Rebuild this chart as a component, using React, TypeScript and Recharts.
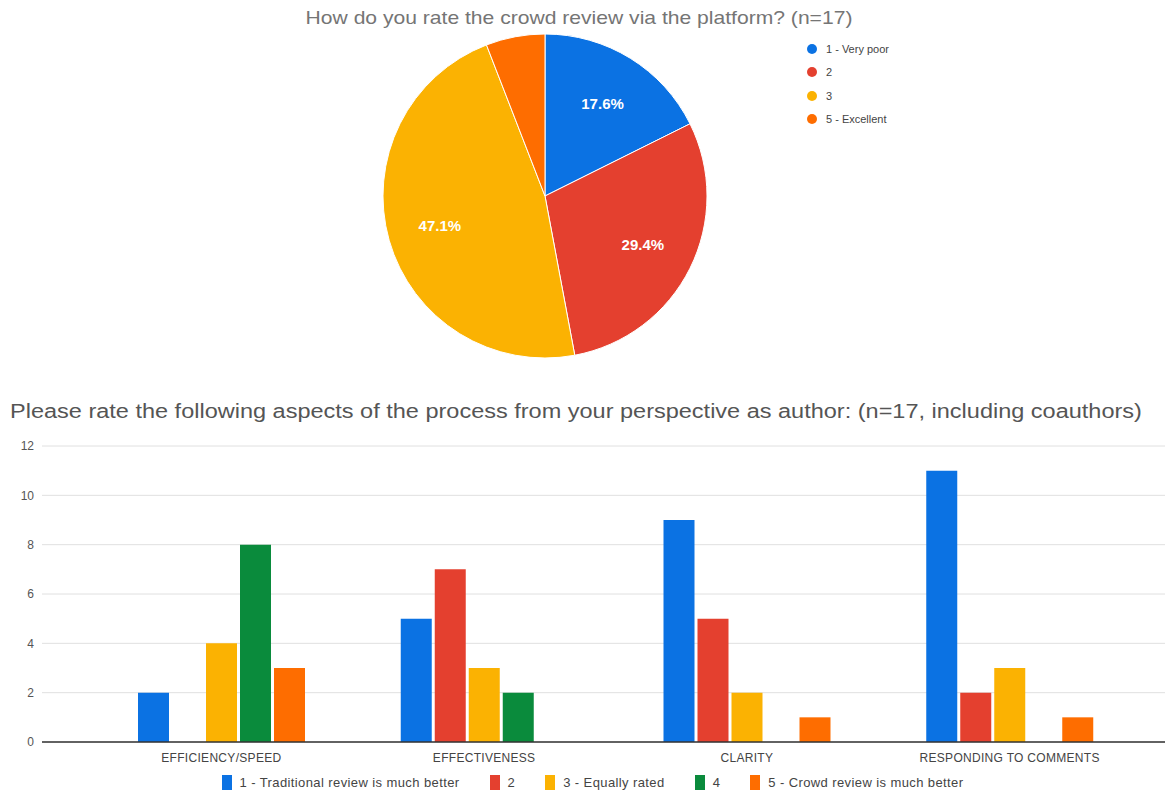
import {
  PieChart,
  Pie,
  Cell,
  BarChart,
  Bar,
  XAxis,
  YAxis,
  CartesianGrid,
  Legend,
} from "recharts";

const pieLabels = ["1 - Very poor", "2", "3", "5 - Excellent"];
const pieCounts = [3, 5, 8, 1];
const pieColors = ["#0b72e3", "#e4402f", "#fbb202", "#fe6d00"];

const aspects = ["EFFICIENCY/SPEED", "EFFECTIVENESS", "CLARITY", "RESPONDING TO COMMENTS"];
const rating1 = [2, 5, 9, 11];
const rating2 = [0, 7, 5, 2];
const rating3 = [4, 3, 2, 3];
const rating4 = [8, 2, 0, 0];
const rating5 = [3, 0, 1, 1];
const barSeries = ["1 - Traditional review is much better", "2", "3 - Equally rated", "4", "5 - Crowd review is much better"];
const barColors = ["#0b72e3", "#e4402f", "#fbb202", "#0a8b3c", "#fe6d00"];
const yTicks = [0, 2, 4, 6, 8, 10, 12];

const FONT = "'Liberation Sans', Arial, sans-serif";

const pieData = pieLabels.map((name, i) => ({ name, value: pieCounts[i] }));
const total = pieCounts.reduce((a, b) => a + b, 0);

const barData = aspects.map((a, i) => ({
  aspect: a,
  r1: rating1[i],
  r2: rating2[i],
  r3: rating3[i],
  r4: rating4[i],
  r5: rating5[i],
}));
const barKeys = ["r1", "r2", "r3", "r4", "r5"];

const RAD = Math.PI / 180;

function pieLabel(props: any) {
  const { cx, cy, midAngle, outerRadius, value } = props;
  const pct = (value / total) * 100;
  if (pct < 10) return null;
  const r = outerRadius * 0.675;
  const x = cx + r * Math.cos(-midAngle * RAD);
  const y = cy + r * Math.sin(-midAngle * RAD);
  return (
    <text
      x={x}
      y={y}
      fill="#fff"
      textAnchor="middle"
      dominantBaseline="central"
      fontSize={15}
      fontWeight="bold"
      fontFamily={FONT}
    >
      {pct.toFixed(1)}%
    </text>
  );
}

function PieLegend() {
  return (
    <div style={{ fontFamily: FONT, fontSize: 11, color: "#444" }}>
      {pieData.map((d, i) => (
        <div key={d.name} style={{ display: "flex", alignItems: "center", height: 23.5 }}>
          <span
            style={{
              width: 10,
              height: 10,
              borderRadius: 5,
              background: pieColors[i],
              marginRight: 9,
              display: "inline-block",
            }}
          />
          {d.name}
        </div>
      ))}
    </div>
  );
}

function XTick(props: any) {
  const { x, y, payload } = props;
  return (
    <text
      x={x}
      y={y + 12}
      textAnchor="middle"
      fontSize={12}
      fill="#444"
      fontFamily={FONT}
      letterSpacing={0.3}
    >
      {payload.value}
    </text>
  );
}

function BarLegend() {
  return (
    <div
      style={{
        display: "flex",
        justifyContent: "center",
        alignItems: "center",
        fontFamily: FONT,
        fontSize: 13,
        letterSpacing: 0.4,
        color: "#444",
        paddingTop: 13,
        paddingLeft: 20,
      }}
    >
      {barSeries.map((s, i) => (
        <div key={i} style={{ display: "flex", alignItems: "center", marginRight: i < 4 ? 30 : 0 }}>
          <span
            style={{
              width: 10,
              height: 15,
              background: barColors[i],
              marginRight: 8,
              display: "inline-block",
            }}
          />
          {s}
        </div>
      ))}
    </div>
  );
}

export default function App() {
  return (
    <div
      style={{
        position: "absolute",
        left: 0,
        top: 0,
        width: 1176,
        height: 795,
        background: "#fff",
        fontFamily: FONT,
        overflow: "hidden",
      }}
    >
      <div
        style={{
          position: "absolute",
          top: 7,
          left: 579,
          fontSize: 19,
          color: "#757575",
          whiteSpace: "nowrap",
          transform: "translateX(-50%) scaleX(1.11)",
        }}
      >
        How do you rate the crowd review via the platform? (n=17)
      </div>
      <div style={{ position: "absolute", top: 0, left: 0 }}>
        <PieChart width={1176} height={380}>
          <Pie
            data={pieData}
            dataKey="value"
            nameKey="name"
            cx={540}
            cy={191}
            outerRadius={162}
            startAngle={90}
            endAngle={-270}
            stroke="#fff"
            strokeWidth={1}
            label={pieLabel}
            labelLine={false}
            isAnimationActive={false}
          >
            {pieData.map((d, i) => (
              <Cell key={d.name} fill={pieColors[i]} />
            ))}
          </Pie>
        </PieChart>
      </div>
      <div style={{ position: "absolute", left: 807, top: 37 }}>
        <PieLegend />
      </div>
      <div
        style={{
          position: "absolute",
          top: 400,
          left: 10,
          fontSize: 20,
          color: "#555",
          whiteSpace: "nowrap",
          transform: "scaleX(1.175)",
          transformOrigin: "left center",
        }}
      >
        Please rate the following aspects of the process from your perspective as author: (n=17, including coauthors)
      </div>
      <div style={{ position: "absolute", top: 430, left: 0 }}>
        <BarChart
          width={1176}
          height={365}
          data={barData}
          margin={{ top: 16, right: 11, left: 0, bottom: 0 }}
          barCategoryGap={48}
          barGap={3}
        >
          <CartesianGrid vertical={false} stroke="#e0e0e0" />
          <XAxis
            dataKey="aspect"
            padding={{ left: 48, right: 24 }}
            tickLine={false}
            axisLine={{ stroke: "#333", strokeWidth: 1.5 }}
            tick={<XTick />}
            height={20}
            interval={0}
          />
          <YAxis
            width={42}
            domain={[0, 12]}
            ticks={yTicks}
            tickLine={false}
            axisLine={false}
            tick={{ fontSize: 12, fill: "#555", fontFamily: FONT }}
          />
          <Legend verticalAlign="bottom" height={33} content={<BarLegend />} />
          {barKeys.map((k, i) => (
            <Bar key={k} dataKey={k} name={barSeries[i]} fill={barColors[i]} isAnimationActive={false} />
          ))}
        </BarChart>
      </div>
    </div>
  );
}
